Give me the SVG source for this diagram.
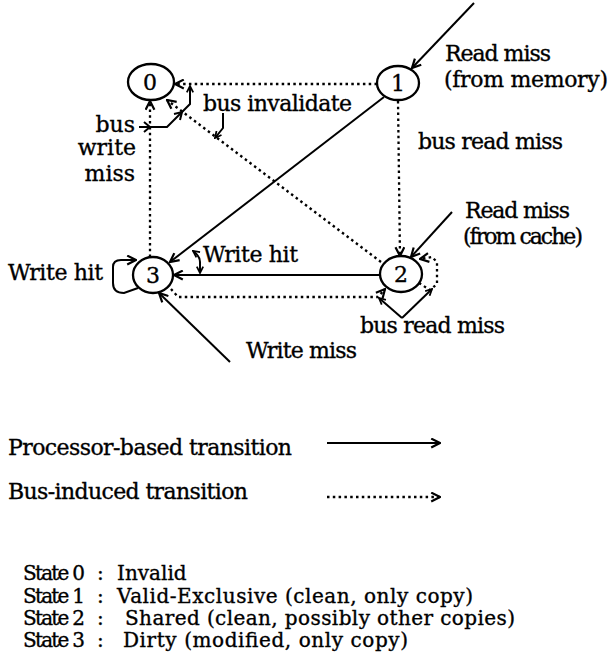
<svg xmlns="http://www.w3.org/2000/svg" width="611" height="670" viewBox="0 0 611 670">
<style>
text{font-family:"DejaVu Serif","Liberation Serif",serif;font-size:22px;fill:#000;stroke:#000;stroke-width:0.35}
.st{font-size:20px}
.num{text-anchor:middle}
.node ellipse{fill:#fff;stroke:#000;stroke-width:2.3}
.solid{fill:none;stroke:#000;stroke-width:2}
.dot{fill:none;stroke:#000;stroke-width:2.3;stroke-dasharray:2.5 3.3}
.tick{fill:none;stroke:#000;stroke-width:2}
</style>
<defs>
<marker id="ah" viewBox="0 0 10 10" refX="9" refY="5" markerWidth="11" markerHeight="11" markerUnits="userSpaceOnUse" orient="auto-start-reverse">
<path d="M1,1 L9,5 L1,9" fill="none" stroke="#000" stroke-width="2" stroke-dasharray="none"/>
</marker>
<marker id="as" viewBox="0 0 10 10" refX="9" refY="5" markerWidth="8" markerHeight="8" markerUnits="userSpaceOnUse" orient="auto-start-reverse">
<path d="M1,1 L9,5 L1,9" fill="none" stroke="#000" stroke-width="2.2" stroke-dasharray="none"/>
</marker>
</defs>
<rect width="611" height="670" fill="#fff"/>
<g id="connectors">
<path class="dot" d="M377,84 L175,84" marker-end="url(#ah)"/>
<path class="dot" d="M381,262 L167,100" marker-end="url(#ah)"/>
<path class="dot" d="M150,257 L150,101" marker-end="url(#ah)"/>
<path class="solid" d="M384,97 L170,262" marker-end="url(#ah)"/>
<path class="solid" d="M380,275 L174,275" marker-end="url(#ah)"/>
<path class="dot" d="M171,289 L178,297 L378,297 L385,289" marker-end="url(#ah)"/>
<path class="dot" d="M398,101 L400,256" marker-end="url(#ah)"/>
<path class="solid" d="M138,288 L124,293 Q113,293 113,283 L113,267 Q113,260 121,260 L136,260" marker-end="url(#ah)"/>
<path class="dot" d="M419,283 L430,290 L437,284 L437,262 L432,257 L420,259" marker-end="url(#ah)"/>
<path class="solid" d="M474,3 L412,68" marker-end="url(#ah)"/>
<path class="solid" d="M452,212 L411,257" marker-end="url(#ah)"/>
<path class="solid" d="M230,362 L159,293" marker-end="url(#ah)"/>
<path class="solid" d="M139,127 L167,127 L190,104 L190,86" marker-end="url(#as)"/>
<path class="tick" d="M144,122 L150,127 L144,132"/>
<path class="tick" d="M174,114 L182,112 L180,120"/>
<path class="solid" d="M223,113 L223,128 L215,138" marker-end="url(#as)"/>
<path class="solid" d="M193,251 Q200,256 200,262 L200,273" marker-start="url(#as)" marker-end="url(#as)"/>
<path class="solid" d="M402,318 L379,298" marker-end="url(#as)"/>
<path class="solid" d="M402,318 L432,289" marker-end="url(#as)"/>
<path class="solid" d="M327,443 L440,443" marker-end="url(#ah)"/>
<path class="dot" d="M327,497 L440,497" marker-end="url(#ah)"/>
</g>
<g id="node0" class="node"><ellipse cx="151" cy="82" rx="23" ry="18"/><text class="num" x="150" y="90">0</text></g>
<g id="node1" class="node"><ellipse cx="398" cy="83" rx="21" ry="17"/><text class="num" x="398" y="91">1</text></g>
<g id="node2" class="node"><ellipse cx="401" cy="274" rx="21" ry="18"/><text class="num" x="401" y="282">2</text></g>
<g id="node3" class="node"><ellipse cx="153" cy="275" rx="20" ry="18"/><text class="num" x="153" y="283">3</text></g>
<g id="labels">
<text x="445" y="61" textLength="106">Read miss</text>
<text x="444" y="87" textLength="164">(from memory)</text>
<text x="203" y="111" textLength="149">bus invalidate</text>
<text x="418" y="149" textLength="145">bus read miss</text>
<text x="135" y="132" text-anchor="end">bus</text>
<text x="136" y="155" text-anchor="end">write</text>
<text x="135" y="181" text-anchor="end">miss</text>
<text x="8" y="280" textLength="95">Write hit</text>
<text x="203" y="262" textLength="95">Write hit</text>
<text x="246" y="358" textLength="111">Write miss</text>
<text x="360" y="333" textLength="145">bus read miss</text>
<text x="465" y="218" textLength="105">Read miss</text>
<text x="463" y="244" textLength="120">(from cache)</text>
<text x="8" y="455" textLength="284">Processor-based transition</text>
<text x="8" y="499" textLength="240">Bus-induced transition</text>
</g>
<g id="legend-states">
<text class="st" y="580"><tspan x="23" textLength="62">State 0</tspan><tspan x="97">:</tspan><tspan x="117">Invalid</tspan></text>
<text class="st" y="603"><tspan x="23" textLength="62">State 1</tspan><tspan x="97">:</tspan><tspan x="117" textLength="356">Valid-Exclusive (clean, only copy)</tspan></text>
<text class="st" y="625"><tspan x="23" textLength="62">State 2</tspan><tspan x="97">:</tspan><tspan x="125" textLength="390">Shared (clean, possibly other copies)</tspan></text>
<text class="st" y="647"><tspan x="23" textLength="62">State 3</tspan><tspan x="97">:</tspan><tspan x="123" textLength="285">Dirty (modified, only copy)</tspan></text>
</g>
</svg>
